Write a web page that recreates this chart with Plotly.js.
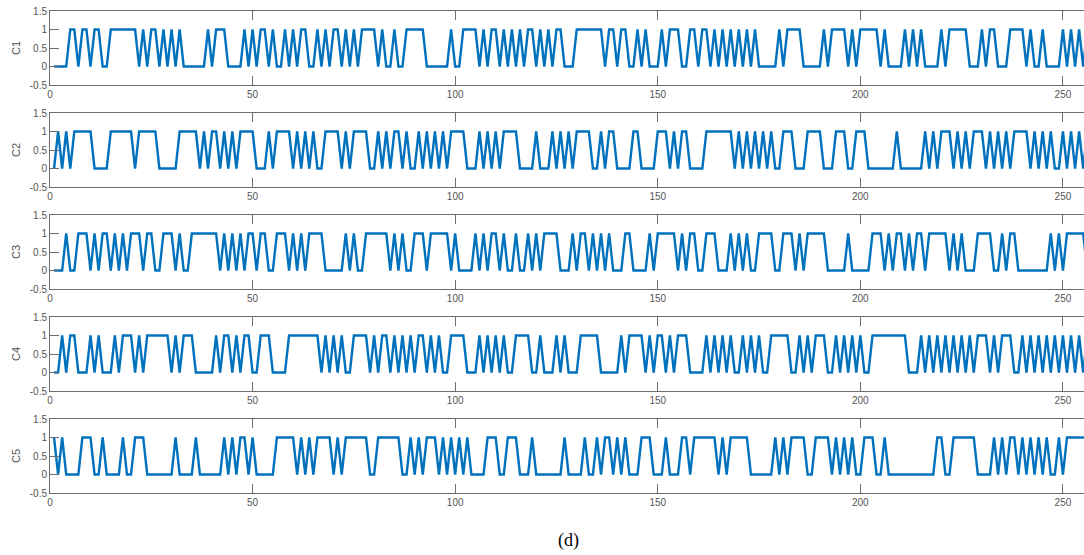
<!DOCTYPE html>
<html>
<head>
<meta charset="utf-8">
<script src="https://cdn.plot.ly/plotly-3.0.1.min.js"></script>
<style>
  html, body { margin: 0; padding: 0; background: #ffffff; }
  #chart { width: 1084px; height: 555px; }
</style>
</head>
<body>
<div id="chart"></div>
<script>
// Binary code sequences, one character per sample (samples 1..256)
const C1_bits =
  "0000110110" + "1100111111" + "1010110101" + "0100000010" + "1110000101" +
  "0110100101" + "0110010101" + "1010101111" + "0100100111" + "1100000010" +
  "0111101011" + "0101010110" + "1010110001" + "1111110110" + "1100101000" +
  "1011100110" + "1101010101" + "0101000001" + "0111100000" + "1011110101" +
  "1111010000" + "1010100001" + "0111110001" + "0110001111" + "0100100001" + "010101";
const C2_bits =
  "0101011111" + "0000111111" + "0111110000" + "0111110101" + "1010101111" +
  "0001011110" + "1010100111" + "1010111100" + "1010110100" + "1010101011" +
  "1100010101" + "0111100001" + "0001010101" + "1110010110" + "0001100001" +
  "1101011000" + "0111111101" + "0101010100" + "1110001111" + "0001110011" +
  "1000000010" + "0000010101" + "1101010111" + "0101010111" + "1010101001" + "010101";
const C3_bits =
  "0001001110" + "1011010101" + "1101100111" + "0100111111" + "1010101011" +
  "0110011101" + "0101111000" + "0010100111" + "1110101001" + "1101111101" +
  "0000101011" + "0100100101" + "0111100010" + "1101010100" + "0110000101" +
  "1111010110" + "0111000101" + "0100111100" + "1110101111" + "1000001000" +
  "0011101011" + "0101101111" + "1010100011" + "1100101100" + "0000001010" + "111110";
const C4_bits =
  "0010110001" + "0100010111" + "0101111110" + "1011100000" + "1011010110" +
  "0111000011" + "1111110101" + "0100111101" + "0110101010" + "1101010011" +
  "1100010101" + "0100111100" + "1000101000" + "1111100000" + "1011110101" +
  "1010111000" + "0101010100" + "1010100111" + "1100101011" + "1001010101" +
  "0011111111" + "1000101010" + "1010101011" + "1010111001" + "0101010101" + "010101";
const C5_bits =
  "1010000111" + "0010000100" + "1110000000" + "1000010000" + "0010101101" +
  "0000011111" + "0101011110" + "1011111100" + "1111110010" + "1011101010" +
  "1010000111" + "0011100010" + "0000001000" + "0100101101" + "0100011100" +
  "0100011011" + "1111010111" + "1100000010" + "1011110011" + "1101010100" +
  "1110010000" + "0000000011" + "0011111100" + "0010101101" + "0101010010" + "111111";

const seriesNames = ["C1", "C2", "C3", "C4", "C5"];
const seriesBits = [C1_bits, C2_bits, C3_bits, C4_bits, C5_bits];
const xTicks = [0, 50, 100, 150, 200, 250];
const yTicks = [-0.5, 0, 0.5, 1, 1.5];
const yTickText = ["-0.5", "0", "0.5", "1", "1.5"];
const caption = "(d)";

// Panel geometry (pixels from the top of the 555 px figure)
const H = 555;
const panelTop = [11, 113, 215, 317, 419];
const panelHeight = 74;

const frameColor = "#6e6e6e";
const labelColor = "#555555";
const lineColor = "#0072BD";

const traces = [];
const layout = {
  width: 1084,
  height: 555,
  margin: { l: 50, r: 0, t: 0, b: 0 },
  paper_bgcolor: "#ffffff",
  plot_bgcolor: "#ffffff",
  showlegend: false,
  font: { family: "Liberation Sans, Arial, sans-serif", size: 10, color: labelColor },
  annotations: [{
    text: caption, xref: "paper", yref: "paper",
    x: 0.501, y: 1 - 540 / H, xanchor: "center", yanchor: "middle",
    showarrow: false,
    font: { family: "Liberation Serif, Times New Roman, serif", size: 18, color: "#000000" }
  }]
};

seriesBits.forEach((bits, k) => {
  const values = Array.from(bits, Number);
  const samples = values.map((_, i) => i + 1);
  const xa = k === 0 ? "x" : "x" + (k + 1);
  const ya = k === 0 ? "y" : "y" + (k + 1);
  traces.push({
    type: "scatter", mode: "lines",
    x: samples, y: values,
    xaxis: xa, yaxis: ya,
    line: { color: lineColor, width: 2.4 },
    hoverinfo: "skip"
  });
  const top = panelTop[k], bottom = panelTop[k] + panelHeight;
  const xKey = k === 0 ? "xaxis" : "xaxis" + (k + 1);
  const yKey = k === 0 ? "yaxis" : "yaxis" + (k + 1);
  layout[xKey] = {
    domain: [0, 1], anchor: ya,
    range: [0, 255.2],
    tickmode: "array", tickvals: xTicks,
    ticks: "inside", ticklen: 9, tickwidth: 1, tickcolor: frameColor,
    showline: true, linecolor: frameColor, linewidth: 1, mirror: "ticks",
    showgrid: false, zeroline: false,
    tickfont: { size: 10, color: labelColor }
  };
  layout[yKey] = {
    domain: [1 - bottom / H, 1 - top / H], anchor: xa,
    range: [-0.5, 1.5],
    tickmode: "array", tickvals: yTicks, ticktext: yTickText,
    ticks: "inside", ticklen: 9, tickwidth: 1, tickcolor: frameColor,
    showline: true, linecolor: frameColor, linewidth: 1,
    showgrid: false, zeroline: false,
    tickfont: { size: 10, color: labelColor },
    title: { text: seriesNames[k], standoff: 6, font: { size: 11, color: labelColor } }
  };
});

Plotly.newPlot("chart", traces, layout, { staticPlot: true, displayModeBar: false });
</script>
</body>
</html>
